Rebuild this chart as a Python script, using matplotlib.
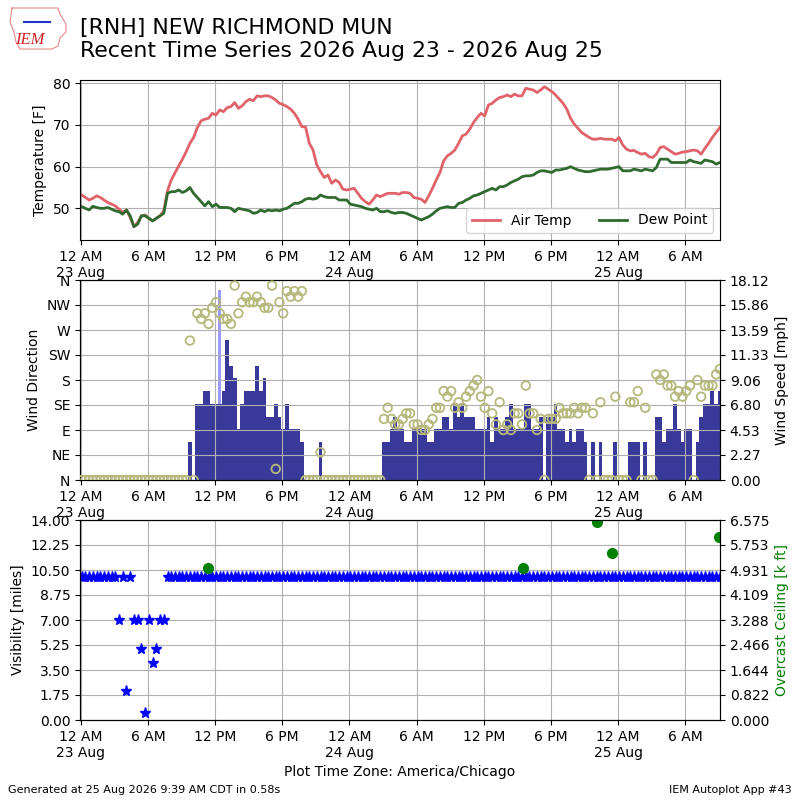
import numpy as np
import pandas as pd
import matplotlib
matplotlib.use("Agg")
import matplotlib.pyplot as plt
import matplotlib.dates as mdates
from matplotlib.ticker import FuncFormatter, FixedLocator
from matplotlib.lines import Line2D

# ---------------- data (20-minute observations starting 23 Aug 00:05) ----------------
start_time = "2026-08-23 00:05"
obs_freq = "20min"

temp_f = [53.2,
    52.6, 52.0, 52.4,  53.0, 52.6, 52.0,  51.4, 51.0, 50.6,  49.8, 49.0, 49.6,
    47.8, 45.6, 46.6,  48.2, 48.4, 47.6,  47.0, 47.6, 48.2,  49.4, 54.2, 56.8,
    58.5, 60.2, 61.8,  63.6, 65.6, 67.0,  69.4, 71.0, 71.4,  71.6, 72.8, 72.4,
    73.6, 73.2, 74.2,  74.4, 75.4, 74.0,  74.6, 75.6, 76.2,  75.8, 77.0, 76.8,
    77.0, 77.0, 76.6,  76.0, 75.2, 74.9,  74.4, 73.8, 72.8,  71.4, 69.6, 69.5,
    65.6, 64.0, 60.4,  58.8, 57.4, 58.0,  56.0, 56.8, 56.2,  54.6, 54.4, 54.6,
    54.8, 53.6, 52.4,  51.6, 51.0, 52.0,  53.2, 52.8, 53.2,  53.6, 53.6, 53.6,
    53.4, 53.8, 53.8,  53.6, 52.6, 52.4,  52.2, 51.4, 53.0,  54.8, 56.8, 58.6,
    61.4, 62.6, 63.2,  64.0, 65.6, 67.4,  67.8, 69.0, 70.6,  71.8, 72.8, 72.2,
    74.8, 75.2, 76.0,  76.6, 76.8, 77.2,  76.8, 77.4, 77.0,  77.0, 78.8, 78.6,
    78.4, 77.8, 78.4,  79.2, 78.6, 78.0,  77.2, 76.2, 75.2,  73.8, 71.6, 70.2,
    69.2, 68.2, 67.6,  67.0, 66.6, 66.6,  66.8, 66.6, 66.6,  66.6, 66.2, 67.0,
    65.2, 64.2, 63.8,  63.9, 63.4, 63.0,  63.2, 62.4, 62.2,  63.0, 64.6, 64.8,
    64.2, 63.6, 63.0,  63.2, 63.5, 63.6,  63.8, 64.0, 63.8,  63.0, 64.4, 65.6,
    67.0, 68.2, 69.4]

dewp_f = [50.4,
    50.0, 49.6, 50.5,  50.2, 50.0, 50.0,  50.2, 49.8, 49.4,  49.2, 48.6, 49.6,
    48.2, 45.6, 46.2,  48.2, 48.2, 47.6,  47.0, 47.6, 48.2,  48.8, 53.6, 54.0,
    54.0, 54.4, 53.8,  54.2, 55.0, 53.6,  52.6, 51.6, 50.6,  51.6, 50.4, 51.0,
    50.2, 50.2, 50.2,  50.0, 49.2, 50.0,  49.8, 49.6, 49.4,  48.8, 49.0, 49.6,
    49.2, 49.6, 49.4,  49.6, 49.4, 49.8,  50.0, 50.6, 51.2,  51.2, 51.6, 52.2,
    52.4, 52.2, 52.4,  53.2, 52.8, 52.6,  52.6, 52.6, 52.0,  52.0, 52.0, 51.0,
    50.8, 50.6, 50.4,  50.0, 49.8, 49.6,  50.0, 49.2, 49.2,  49.4, 49.0, 48.8,
    49.0, 49.0, 48.8,  48.4, 48.0, 47.6,  47.2, 47.6, 48.0,  48.6, 49.4, 50.0,
    50.2, 50.4, 50.2,  50.2, 51.2, 51.4,  52.0, 52.4, 53.0,  53.2, 53.6, 54.0,
    54.4, 54.8, 54.4,  55.2, 55.2, 55.6,  56.2, 56.6, 57.0,  57.6, 57.8, 57.8,
    58.0, 58.6, 59.0,  59.0, 58.8, 58.6,  59.2, 59.2, 59.4,  59.6, 60.0, 59.6,
    59.2, 59.0, 58.8,  58.8, 59.0, 59.2,  59.4, 59.4, 59.4,  59.6, 59.8, 60.0,
    59.0, 59.0, 59.0,  59.4, 59.2, 59.0,  59.4, 59.2, 59.0,  59.8, 61.8, 61.8,
    61.8, 61.0, 61.0,  61.0, 61.0, 61.0,  61.6, 61.2, 61.0,  60.8, 61.6, 61.4,
    61.2, 60.6, 61.0]

# wind speed [knots]
sknt = ([0] * 29 + [3, 0,
    6, 6, 7, 7, 6, 6, 6, 7, 11, 9, 8, 4, 6, 7, 7, 7, 9, 7, 8, 5, 5, 6, 5, 4, 6, 4, 4, 4, 3]
    + [0] * 4 + [3] + [0] * 16 +
    [3, 3, 4, 5, 4, 4, 3, 3, 4, 4, 4, 4, 3, 3, 4, 4, 5, 5, 4, 6, 5, 6, 5, 5, 5, 4, 4, 4,
     5, 3, 5, 4, 4, 5, 6, 4, 4, 4, 6, 6, 4, 4, 5, 0, 5, 5, 6, 4, 4, 3, 4, 3, 4, 4, 3, 0,
     3, 0, 3, 0, 0, 0, 3, 0, 0, 0, 3, 3, 3, 0, 3, 0, 0, 5, 5, 3, 4, 4, 6, 4, 3, 4, 4, 0,
     3, 5, 6, 6, 7, 6, 7])

# wind direction [deg]
drct = ([0] * 29 + [251, 0,
    300, 290, 300, 281, 310, 320, 300, 290, 290, 281, 350, 300, 320, 330, 320, 320, 330,
    320, 310, 310, 350, 20, 320, 300, 340, 330, 340, 330, 340]
    + [0] * 4 + [50] + [0] * 16 +
    [110, 130, 110, 100, 100, 110, 120, 120, 100, 100, 90, 90, 100, 110, 130, 130, 160,
     150, 160, 130, 140, 130, 150, 160, 170, 180, 150, 130, 160, 120, 100, 140, 90, 100,
     90, 120, 120, 100, 170, 120, 120, 90, 110, 0, 110, 110, 110, 130, 120, 120, 120, 130,
     120, 130, 130, 0, 120, 0, 140, 0, 0, 0, 150, 0, 0, 0, 140, 140, 160, 0, 130, 0, 0,
     190, 180, 190, 170, 170, 150, 160, 150, 160, 170, 0, 180, 150, 170, 170, 170, 190, 200])

# visibility [miles]
vsby = ([10] * 10 + [7, 10, 2, 10, 7, 7, 5, 0.5, 7, 4, 5, 7, 7] + [10] * 149)

gust_times = ["2026-08-23 12:25"]
gust_kt = [15]

ceil_times = ["2026-08-23 11:20", "2026-08-24 15:30", "2026-08-24 22:06",
              "2026-08-24 23:28", "2026-08-25 09:00"]
ceil_kft = [5.0, 5.0, 6.5, 5.5, 6.0]

xlim_times = ["2026-08-22 23:56", "2026-08-25 09:06"]
tick_times = pd.date_range("2026-08-23 00:00", "2026-08-25 06:00", freq="6h")

# ---------------- figure ----------------
n = len(temp_f)
valid = pd.date_range(start_time, periods=n, freq=obs_freq)
x = mdates.date2num(valid.to_pydatetime())
xg = mdates.date2num(pd.to_datetime(gust_times).to_pydatetime())
xc = mdates.date2num(pd.to_datetime(ceil_times).to_pydatetime())
xl = mdates.date2num(pd.to_datetime(xlim_times).to_pydatetime())
xt = mdates.date2num(tick_times.to_pydatetime())

KT2MPH = 1.15078
smph = np.array(sknt) * KT2MPH
gmph = np.array(gust_kt) * KT2MPH


def tick_fmt(val, pos=None):
    dt = mdates.num2date(val)
    h = dt.hour
    if h == 0:
        return "12 AM\n%d %s" % (dt.day, dt.strftime("%b"))
    if h == 12:
        return "12 PM"
    return "%d %s" % (h % 12, "AM" if h < 12 else "PM")


fig = plt.figure(figsize=(8, 8), dpi=100)

ax1 = fig.add_axes([0.1, 0.7, 0.8, 0.2])
ax_d = fig.add_axes([0.1, 0.4, 0.8, 0.25])
ax3 = fig.add_axes([0.1, 0.1, 0.8, 0.25])

for a in (ax1, ax_d, ax3):
    a.set_xlim(xl[0], xl[1])
    a.xaxis.set_major_locator(FixedLocator(xt))
    a.xaxis.set_major_formatter(FuncFormatter(tick_fmt))
    a.grid(True)

# temperature
ax1.plot(x, temp_f, color="#e0636b", lw=2, label="Air Temp")
ax1.plot(x, dewp_f, color="#2f6a2f", lw=2, label="Dew Point")
ax1.set_ylim(42.4, 80.8)
ax1.set_yticks([50, 60, 70, 80])
ax1.set_ylabel("Temperature [F]")
ax1.legend(loc="lower right", ncol=2)

# wind
ax2 = ax_d.twinx()
width = 20.0 / 1440.0
ax2.bar(xg, gmph, width=width * 0.75, color="#9a9aff", zorder=1)
ax2.bar(x, smph, width=width, color="#39399a", zorder=1)
ax2.set_ylim(0, 18.125)
ax2.set_yticks(np.linspace(0, 18.125, 9))
ax2.set_yticklabels(["%.2f" % v for v in np.linspace(0, 18.125, 9)][:-1] + ["18.12"])
ax2.set_ylabel("Wind Speed [mph]")
ax2.set_xlim(xl[0], xl[1])

ax_d.set_zorder(ax2.get_zorder() + 1)
ax_d.patch.set_visible(False)
ax_d.scatter(x, drct, s=38, facecolors="none", edgecolors="#b6b87c", linewidths=1.3, zorder=3)
ax_d.set_ylim(0, 360)
ax_d.set_yticks(np.arange(0, 361, 45))
ax_d.set_yticklabels(["N", "NE", "E", "SE", "S", "SW", "W", "NW", "N"])
ax_d.set_ylabel("Wind Direction")

# visibility / ceiling
ax3.plot(x, vsby, ls="none", marker="*", color="b", ms=8)
ax3.set_ylim(0, 14)
ax3.set_yticks(np.linspace(0, 14, 9))
ax3.yaxis.set_major_formatter(FuncFormatter(lambda v, p: "%.2f" % v))
ax3.set_ylabel("Visibility [miles]")
ax3.set_xlabel("Plot Time Zone: America/Chicago")

ax4 = ax3.twinx()
ax4.plot(xc, ceil_kft, ls="none", marker="o", color="g", ms=7)
ax4.set_ylim(0, 6.575)
ax4.set_yticks(np.linspace(0, 6.575, 9))
ax4.yaxis.set_major_formatter(FuncFormatter(lambda v, p: "%.3f" % v))
ax4.set_ylabel("Overcast Ceiling [k ft]", color="g")
ax4.set_xlim(xl[0], xl[1])

# titles and footer
fig.text(0.1, 0.978, "[RNH] NEW RICHMOND MUN\nRecent Time Series 2026 Aug 23 - 2026 Aug 25",
         fontsize=15.8, va="top", ha="left", linespacing=1.2)
fig.text(0.01, 0.006, "Generated at 25 Aug 2026 9:39 AM CDT in 0.58s", fontsize=8, va="bottom")
fig.text(0.99, 0.006, "IEM Autoplot App #43", fontsize=8, va="bottom", ha="right")

# simple IEM logo
outline_px = [(12, 8), (58, 8), (60, 14), (66, 24), (66, 32), (60, 38), (58, 46), (52, 49),
              (20, 49), (16, 42), (14, 32), (10, 22), (12, 8)]
fig.add_artist(Line2D([p[0] / 800 for p in outline_px], [1 - p[1] / 800 for p in outline_px],
                      color="#e88888", lw=0.8, transform=fig.transFigure))
fig.add_artist(Line2D([24 / 800, 50 / 800], [1 - 22 / 800, 1 - 22 / 800],
                      color="#2233cc", lw=1.5, transform=fig.transFigure))
fig.text(15 / 800, 1 - 44 / 800, "IEM", color="#d02020", fontsize=12, style="italic",
         family="Liberation Serif", va="baseline")

fig.savefig("out.png", dpi=100)
